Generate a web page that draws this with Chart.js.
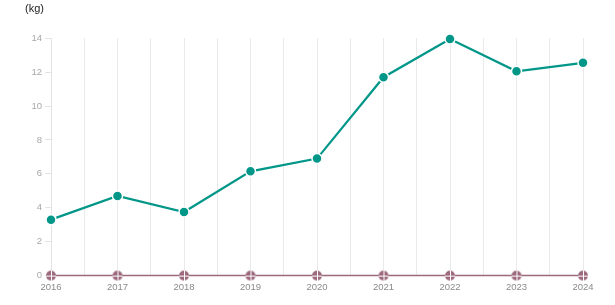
<!DOCTYPE html>
<html>
<head>
<script src="https://cdn.jsdelivr.net/npm/chart.js@4.4.1/dist/chart.umd.min.js"></script>
<style>
  body { margin: 0; background: #fff; }
  #wrap { width: 615px; height: 305px; }
</style>
</head>
<body>
<div id="wrap"><canvas id="myChart"></canvas></div>
<script>
var years = [2016, 2017, 2018, 2019, 2020, 2021, 2022, 2023, 2024];
var amounts = [3.3, 4.7, 3.75, 6.15, 6.9, 11.7, 13.95, 12.05, 12.55];
var zeros = [0, 0, 0, 0, 0, 0, 0, 0, 0];
var yTicks = [0, 2, 4, 6, 8, 10, 12, 14];

// marker for the zero series: filled circle with a white cross
var mark = document.createElement("canvas");
mark.width = 12; mark.height = 12;
var m = mark.getContext("2d");
m.fillStyle = "#9c6a7c";
m.beginPath(); m.arc(6, 6, 5, 0, Math.PI * 2); m.fill();
m.strokeStyle = "#fff"; m.lineWidth = 1;
m.beginPath(); m.moveTo(6.5, 1); m.lineTo(6.5, 11); m.moveTo(1, 6.5); m.lineTo(11, 6.5); m.stroke();

function pts(vals) {
    return years.map(function(y, i) { return { x: y, y: vals[i] }; });
}

const ctx = document.getElementById("myChart").getContext("2d");
new Chart(ctx, {
    type: "line",
    data: {
        datasets: [{
            label: "zero",
            data: pts(zeros),
            borderColor: "#9c6a7c",
            borderWidth: 1.5,
            pointStyle: mark,
            clip: false,
            order: 2
        }, {
            label: "amount",
            data: pts(amounts),
            borderColor: "#009688",
            backgroundColor: "#009688",
            borderWidth: 2.2,
            pointRadius: 5,
            pointBorderColor: "#fff",
            pointBorderWidth: 1.5,
            pointHoverRadius: 5,
            clip: false,
            order: 1
        }]
    },
    options: {
        responsive: true,
        maintainAspectRatio: false,
        animation: false,
        layout: { padding: { left: 25, right: 32, top: 0, bottom: 6 } },
        plugins: {
            legend: { display: false },
            tooltip: { enabled: false },
            title: {
                display: true,
                text: "(kg)",
                align: "start",
                color: "#222",
                font: { family: "Liberation Sans, Arial", size: 11, weight: "normal" },
                padding: { top: 2, bottom: 23 }
            }
        },
        scales: {
            x: {
                type: "linear",
                min: years[0],
                max: years[years.length - 1],
                border: { display: false },
                grid: { color: "#e9e9e9", drawTicks: false },
                ticks: {
                    stepSize: 0.5,
                    autoSkip: false,
                    maxRotation: 0,
                    padding: 6,
                    color: "#8a8a8a",
                    font: { family: "Liberation Sans, Arial", size: 9.5 },
                    callback: function(v) { return v % 1 === 0 ? String(v) : ""; }
                }
            },
            y: {
                min: 0,
                max: 14,
                afterBuildTicks: function(s) { s.ticks = yTicks.map(function(v) { return { value: v }; }); },
                afterFit: function(s) { s.width = 26; },
                border: { display: true, color: "#e3e3e3" },
                grid: { drawOnChartArea: false, drawTicks: true, tickLength: 6, color: "#e3e3e3" },
                ticks: {
                    padding: 3,
                    color: "#a8a8a8",
                    font: { family: "Liberation Sans, Arial", size: 9.5 }
                }
            }
        }
    }
});
</script>
</body>
</html>
